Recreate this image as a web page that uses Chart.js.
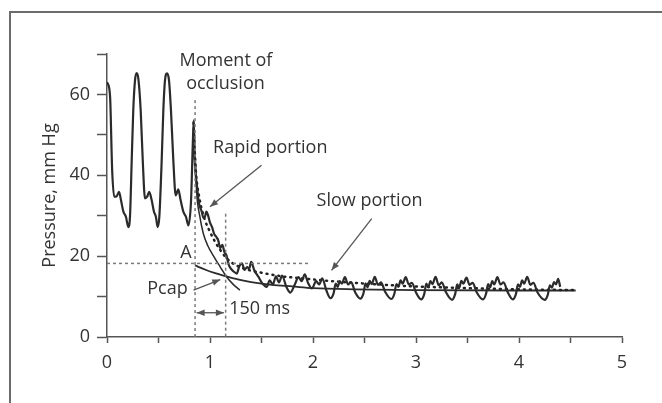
<!DOCTYPE html>
<html>
<head>
<meta charset="utf-8">
<script src="https://cdn.jsdelivr.net/npm/chart.js@4.4.1/dist/chart.umd.min.js"></script>
<style>
  html, body { margin: 0; padding: 0; background: #fff; }
  #wrap { width: 662px; height: 403px; }
</style>
</head>
<body>
<div id="wrap"><canvas id="chart" width="662" height="403"></canvas></div>
<script>
// measured pressure trace (time in s, pressure in mm Hg)
const traceX = [0.00, 0.007, 0.03, 0.05, 0.07, 0.09, 0.117, 0.136, 0.159, 0.184, 0.207, 0.223,
  0.24, 0.255, 0.272, 0.288, 0.304, 0.327, 0.347, 0.369, 0.39, 0.41, 0.434, 0.456, 0.475, 0.492, 0.508,
  0.531, 0.547, 0.563, 0.583, 0.602, 0.621, 0.644, 0.667, 0.692, 0.715, 0.741, 0.767, 0.79, 0.816,
  0.832, 0.842, 0.85, 0.86, 0.875, 0.89, 0.905, 0.92, 0.935, 0.95, 0.965, 0.98, 1.00, 1.02, 1.04, 1.06, 1.08,
  1.10, 1.12, 1.14, 1.16, 1.18, 1.20, 1.23, 1.26, 1.285, 1.31, 1.335, 1.36, 1.38, 1.40, 1.43, 1.47, 1.51, 1.55,
  1.58, 1.61, 1.64, 1.67, 1.70, 1.74, 1.78, 1.82, 1.86, 1.89, 1.92, 1.95, 1.99, 2.03, 2.06, 2.09, 2.13, 2.17,
  2.20, 2.22, 2.24, 2.26, 2.28, 2.31, 2.34, 2.37, 2.41, 2.46,
  2.49, 2.51, 2.53, 2.55, 2.57, 2.60, 2.63, 2.66, 2.70, 2.76,
  2.79, 2.81, 2.83, 2.85, 2.87, 2.90, 2.93, 2.96, 3.00, 3.05,
  3.08, 3.10, 3.12, 3.14, 3.16, 3.19, 3.22, 3.25, 3.29, 3.35,
  3.38, 3.40, 3.42, 3.44, 3.46, 3.49, 3.52, 3.55, 3.59, 3.65,
  3.68, 3.70, 3.72, 3.74, 3.76, 3.79, 3.82, 3.85, 3.89, 3.94,
  3.97, 3.99, 4.01, 4.03, 4.05, 4.08, 4.11, 4.14, 4.18, 4.25,
  4.28, 4.30, 4.32, 4.34, 4.36, 4.38, 4.40];
const traceY = [63, 62.7, 59.4, 41.3, 34.7, 34.7, 35.9, 33.8, 31, 29.7, 27.2, 29.7,
  43.7, 56.1, 63.5, 65.3, 64, 56.1, 43.7, 34.3, 34.7, 35.9, 33.8, 31, 29.7, 27.2, 29.7,
  43.7, 56.1, 63.5, 65.2, 63.5, 56.1, 43.7, 35, 36.5, 33.8, 31, 29.7, 27.6, 33.8,
  47, 53.6, 45, 40.5, 37, 33.5, 32, 31, 29.5, 29.7, 31, 30.2, 28.3, 27.2, 25.5, 24.8, 23.9,
  22, 22.8, 21, 20.2, 18, 17, 16.2, 15.7, 17.5, 18.2, 16.6, 17.3, 16.9, 18.6, 16.5, 14.9, 13.2, 12.4,
  14, 13, 15, 13.5, 15.2, 12.5, 11, 12.8, 14.8, 13.8, 15.5, 13.5, 12, 13.8, 13, 14.5, 11.5, 9.6,
  10.8, 13.2, 12.4, 13.8, 13.2, 14.8, 13, 13.6, 11, 9.5,
  10.8, 13.3, 12.3, 13.9, 13.1, 14.9, 12.9, 13.5, 11.2, 9.4,
  10.7, 13.1, 12.4, 14, 13.2, 14.8, 13, 13.4, 11, 9.3,
  10.6, 13.2, 12.3, 13.8, 13.1, 14.9, 12.8, 13.5, 11.1, 9.2,
  10.6, 13, 12.2, 13.9, 13.2, 14.7, 12.9, 13.4, 11, 9.3,
  10.7, 13.1, 12.3, 13.8, 13, 14.8, 13, 13.5, 11.1, 9.3,
  10.6, 13, 12.4, 14, 13.2, 14.9, 12.9, 13.4, 11, 9.2,
  10.5, 12.8, 12.2, 13.6, 13, 14.4, 12.4];

// dotted averaged decay
const meanX = [0.84, 0.86, 0.90, 0.95, 1.00, 1.05, 1.10, 1.15, 1.20, 1.30, 1.40, 1.50, 1.70, 1.90, 2.10, 2.40, 2.70, 3.00, 3.50, 4.00, 4.54];
const meanY = [53, 42, 34, 29, 26, 23.5, 21.5, 19.8, 18.6, 17.2, 16.4, 15.9, 15.0, 14.5, 14.0, 13.4, 12.9, 12.5, 12.1, 11.8, 11.6];

// fitted curves
const rapidX = [0.855, 0.87, 0.90, 0.935, 0.98, 1.03, 1.10, 1.16, 1.23, 1.29];
const rapidY = [46, 36, 30, 25.6, 22.5, 20.2, 17.3, 14.9, 12.9, 11.6];
const slowX = [0.855, 0.95, 1.05, 1.13, 1.28, 1.40, 1.60, 1.80, 2.00, 2.40, 3.00, 4.00, 4.55];
const slowY = [17.7, 16.7, 15.8, 15.2, 14.2, 13.6, 12.9, 12.5, 12.1, 11.8, 11.6, 11.5, 11.5];

// guide lines
const occlusionT = 0.855;
const cutoffT = 1.152;
const levelA = 18.2;

const xTickLabels = [0, 1, 2, 3, 4, 5];
const yTickLabels = [0, 20, 40, 60];

function pairs(xs, ys){ return xs.map((x, i) => ({ x: x, y: ys[i] })); }

const INK = '#2b2b2b';
const GUIDE = '#7a7a7a';
const AXIS = '#555';
const FONT = '"Open Sans", "Noto Sans", sans-serif';

// labels and arrows, in data units
const notes = [
  { text: 'Moment of', x: 1.155, y: 68.2, align: 'center' },
  { text: 'occlusion', x: 1.15, y: 62.5, align: 'center' },
  { text: 'Rapid portion', x: 1.03, y: 46.7, align: 'left' },
  { text: 'Slow portion', x: 2.035, y: 33.7, align: 'left' },
  { text: 'A', x: 0.767, y: 20.7, align: 'center' },
  { text: 'Pcap', x: 0.783, y: 11.8, align: 'right' },
  { text: '150 ms', x: 1.187, y: 7.0, align: 'left' }
];
const arrows = [
  { from: [1.50, 42.5], to: [1.00, 32.2] },
  { from: [2.57, 29.3], to: [2.18, 16.5] },
  { from: [0.84, 11.6], to: [1.10, 14.2] },
  { from: [0.87, 6.0], to: [1.135, 6.0], both: true }
];

function head(ctx, x0, y0, x1, y1){
  const a = Math.atan2(y1 - y0, x1 - x0);
  const len = 8, w = 3.2;
  ctx.beginPath();
  ctx.moveTo(x1, y1);
  ctx.lineTo(x1 - len * Math.cos(a) + w * Math.sin(a), y1 - len * Math.sin(a) - w * Math.cos(a));
  ctx.lineTo(x1 - len * Math.cos(a) - w * Math.sin(a), y1 - len * Math.sin(a) + w * Math.cos(a));
  ctx.closePath();
  ctx.fill();
}

const decor = {
  id: 'decor',
  beforeDraw(chart){
    const ctx = chart.ctx;
    ctx.save();
    ctx.strokeStyle = '#6b6b6b';
    ctx.lineWidth = 2;
    ctx.beginPath();
    ctx.moveTo(10, chart.height);
    ctx.lineTo(10, 12);
    ctx.lineTo(chart.width, 12);
    ctx.stroke();
    ctx.restore();
  },
  afterDatasetsDraw(chart){
    const ctx = chart.ctx;
    const xs = chart.scales.x, ys = chart.scales.y;
    ctx.save();
    ctx.fillStyle = '#333';
    ctx.font = '18px ' + FONT;
    ctx.textBaseline = 'middle';
    notes.forEach(n => {
      ctx.textAlign = n.align;
      ctx.fillText(n.text, xs.getPixelForValue(n.x), ys.getPixelForValue(n.y));
    });
    ctx.strokeStyle = '#555';
    ctx.fillStyle = '#555';
    ctx.lineWidth = 1.3;
    arrows.forEach(a => {
      const x0 = xs.getPixelForValue(a.from[0]), y0 = ys.getPixelForValue(a.from[1]);
      const x1 = xs.getPixelForValue(a.to[0]), y1 = ys.getPixelForValue(a.to[1]);
      ctx.beginPath();
      ctx.moveTo(x0, y0);
      ctx.lineTo(x1, y1);
      ctx.stroke();
      head(ctx, x0, y0, x1, y1);
      if (a.both) head(ctx, x1, y1, x0, y0);
    });
    ctx.restore();
  }
};

const guideStyle = { borderColor: GUIDE, borderWidth: 1.5, borderDash: [3, 3], pointRadius: 0, fill: false };

new Chart(document.getElementById('chart'), {
  type: 'line',
  data: {
    datasets: [
      Object.assign({ data: [{ x: occlusionT, y: 58.6 }, { x: occlusionT, y: 0 }] }, guideStyle),
      Object.assign({ data: [{ x: cutoffT, y: 30.5 }, { x: cutoffT, y: 0 }] }, guideStyle),
      Object.assign({ data: [{ x: 0, y: levelA }, { x: 1.96, y: levelA }] }, guideStyle),
      { data: pairs(traceX, traceY), borderColor: INK, borderWidth: 2.2, pointRadius: 0, cubicInterpolationMode: 'monotone' },
      { data: pairs(meanX, meanY), borderColor: '#222', borderWidth: 2.5, borderDash: [1, 5], borderCapStyle: 'round', pointRadius: 0, cubicInterpolationMode: 'monotone' },
      { data: pairs(rapidX, rapidY), borderColor: INK, borderWidth: 1.5, pointRadius: 0, cubicInterpolationMode: 'monotone' },
      { data: pairs(slowX, slowY), borderColor: INK, borderWidth: 1.8, pointRadius: 0, cubicInterpolationMode: 'monotone' }
    ]
  },
  options: {
    responsive: false,
    animation: false,
    devicePixelRatio: 1,
    layout: { padding: { left: 0, right: 40, top: 54, bottom: 0 } },
    plugins: { legend: { display: false }, tooltip: { enabled: false } },
    scales: {
      x: {
        type: 'linear', min: 0, max: 5,
        border: { display: true, color: AXIS, width: 1.5 },
        grid: { drawOnChartArea: false, drawTicks: true, tickLength: 6, tickColor: AXIS, tickWidth: 1.5 },
        ticks: {
          stepSize: 0.5, padding: 9, color: '#333', font: { family: FONT, size: 18 },
          callback: v => xTickLabels.includes(v) ? String(v) : ''
        },
        afterFit: s => { s.height = 66; }
      },
      y: {
        min: 0, max: 70,
        border: { display: true, color: AXIS, width: 1.5 },
        grid: { drawOnChartArea: false, drawTicks: true, tickLength: 10, tickColor: AXIS, tickWidth: 1.5 },
        ticks: {
          stepSize: 5, padding: 7, color: '#333', font: { family: FONT, size: 18 },
          callback: v => yTickLabels.includes(v) ? String(v) : ''
        },
        title: { display: true, text: 'Pressure, mm Hg', color: '#333', font: { family: FONT, size: 18 }, padding: { top: 39, bottom: 0 } },
        afterFit: s => { s.width = 107; }
      }
    }
  },
  plugins: [decor]
});
</script>
</body>
</html>
